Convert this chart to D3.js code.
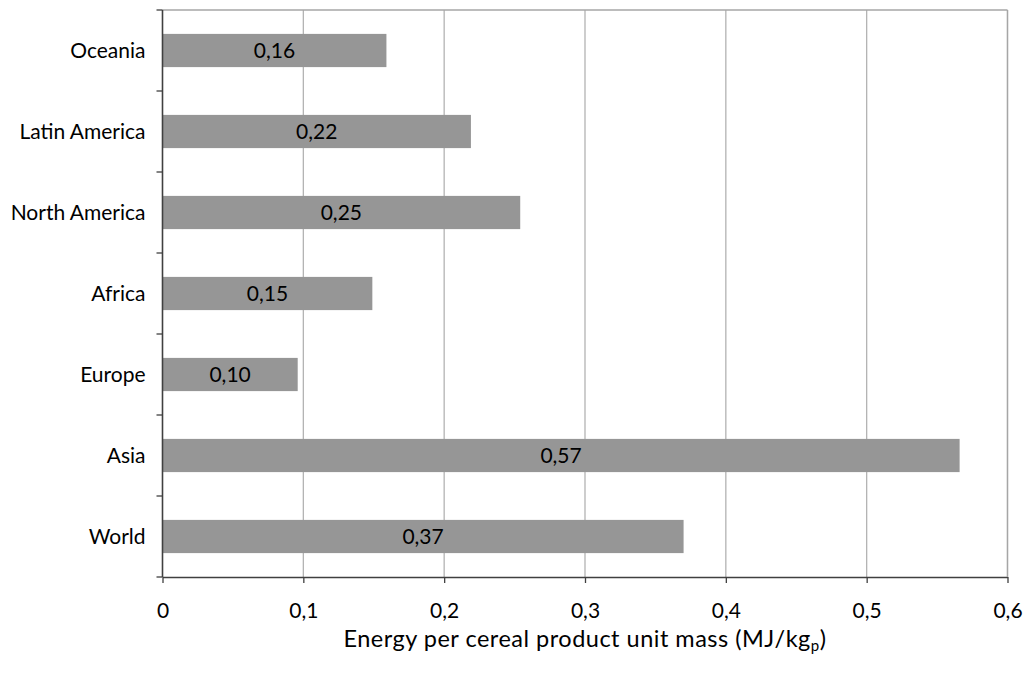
<!DOCTYPE html>
<html>
<head>
<meta charset="utf-8">
<script src="https://cdn.jsdelivr.net/npm/d3@7"></script>
<style>
  html, body { margin: 0; padding: 0; background: #ffffff; }
  svg { display: block; font-family: Lato, "Open Sans", sans-serif; }
</style>
</head>
<body>
<svg id="chart" width="1030" height="673"></svg>
<script>
// Regions, listed top to bottom
const regions = ["Oceania", "Latin America", "North America", "Africa", "Europe", "Asia", "World"];
// Energy per cereal product unit mass (MJ/kg_p)
const energy = [0.159, 0.219, 0.254, 0.149, 0.096, 0.566, 0.370];
// x-axis ticks
const xTicks = [0, 0.1, 0.2, 0.3, 0.4, 0.5, 0.6];

const svg = d3.select("#chart");
const margin = { left: 162.5, right: 22.5, top: 10, bottom: 96 };
const W = 1030, H = 673;
const plotW = W - margin.left - margin.right;
const plotH = H - margin.top - margin.bottom;
const fontSize = 21;

const x = d3.scaleLinear().domain([0, 0.6]).range([margin.left, margin.left + plotW]);
const y = d3.scaleBand().domain(regions).range([margin.top, margin.top + plotH]).paddingInner(0.59).paddingOuter(0.295);
const yb = d3.scaleBand().domain(regions).range([margin.top, margin.top + plotH]);

const comma = v => d3.format(".2f")(v).replace(".", ",");
const tickFmt = v => (v === 0 ? "0" : d3.format(".1f")(v).replace(".", ","));

// vertical gridlines
svg.append("g")
  .selectAll("line")
  .data(xTicks.slice(1))
  .join("line")
  .attr("x1", d => x(d)).attr("x2", d => x(d))
  .attr("y1", margin.top).attr("y2", margin.top + plotH)
  .attr("stroke", "#b3b3b3").attr("stroke-width", 1.3);

// plot border (top)
svg.append("line")
  .attr("x1", margin.left).attr("x2", margin.left + plotW)
  .attr("y1", margin.top).attr("y2", margin.top)
  .attr("stroke", "#a6a6a6").attr("stroke-width", 1.3);

// bars
svg.append("g")
  .selectAll("rect")
  .data(regions)
  .join("rect")
  .attr("x", x(0))
  .attr("y", d => y(d))
  .attr("width", (d, i) => x(energy[i]) - x(0))
  .attr("height", y.bandwidth())
  .attr("fill", "#969696");

// value labels centred in bars
svg.append("g")
  .selectAll("text")
  .data(regions)
  .join("text")
  .attr("x", (d, i) => (x(0) + x(energy[i])) / 2)
  .attr("y", d => y(d) + y.bandwidth() / 2)
  .attr("dy", "0.36em")
  .attr("text-anchor", "middle")
  .attr("font-size", fontSize)
  .attr("fill", "#000")
  .text((d, i) => comma(energy[i]));

// x axis
const xAxis = svg.append("g")
  .attr("transform", `translate(0,${margin.top + plotH})`)
  .call(d3.axisBottom(x).tickValues(xTicks).tickFormat(tickFmt).tickSize(6).tickPadding(20).tickSizeOuter(0));
xAxis.select(".domain").attr("stroke", "#404040").attr("stroke-width", 1.6);
xAxis.selectAll(".tick line").attr("stroke", "#404040").attr("stroke-width", 1.3);
xAxis.selectAll(".tick text").attr("font-size", fontSize).attr("fill", "#000").style("font-family", "Lato, sans-serif");

// y axis: ticks sit at band boundaries
const yAxis = svg.append("g").attr("transform", `translate(${margin.left},0)`);
yAxis.append("line")
  .attr("x1", 0).attr("x2", 0)
  .attr("y1", margin.top).attr("y2", margin.top + plotH)
  .attr("stroke", "#404040").attr("stroke-width", 1.6);
yAxis.selectAll("line.tk")
  .data(regions.concat(["__end"]))
  .join("line")
  .attr("class", "tk")
  .attr("x1", -6).attr("x2", 0)
  .attr("y1", (d, i) => i < regions.length ? yb(d) : margin.top + plotH)
  .attr("y2", (d, i) => i < regions.length ? yb(d) : margin.top + plotH)
  .attr("stroke", "#404040").attr("stroke-width", 1.3);
yAxis.selectAll("text")
  .data(regions)
  .join("text")
  .attr("x", -17)
  .attr("y", d => yb(d) + yb.bandwidth() / 2)
  .attr("dy", "0.36em")
  .attr("text-anchor", "end")
  .attr("font-size", fontSize)
  .attr("fill", "#000")
  .text(d => d);

// plot border (right)
svg.append("line")
  .attr("x1", margin.left + plotW).attr("x2", margin.left + plotW)
  .attr("y1", margin.top).attr("y2", margin.top + plotH)
  .attr("stroke", "#a6a6a6").attr("stroke-width", 1.3);

// axis title with subscript
const title = svg.append("text")
  .attr("x", margin.left + plotW / 2)
  .attr("y", 647)
  .attr("text-anchor", "middle")
  .attr("font-size", 23.5)
  .attr("letter-spacing", 0.5)
  .attr("fill", "#000");
title.append("tspan").text("Energy per cereal product unit mass (MJ/kg");
title.append("tspan").attr("font-size", 15).attr("dy", 4).text("p");
title.append("tspan").attr("dy", -4).text(")");
</script>
</body>
</html>
